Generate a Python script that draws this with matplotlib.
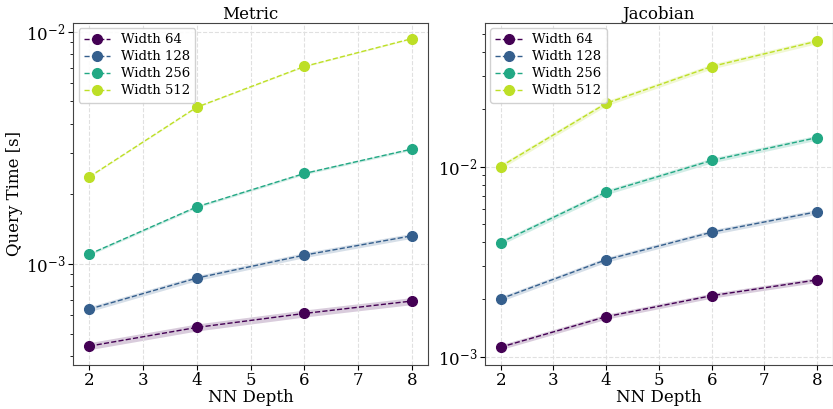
import numpy as np
import matplotlib
matplotlib.use("Agg")
import matplotlib.pyplot as plt

plt.rcParams['font.family'] = 'DejaVu Serif'
plt.rcParams['mathtext.fontset'] = 'dejavuserif'

depths = [2, 4, 6, 8]
widths = [64, 128, 256, 512]

# mean query time per width, metric evaluation
metric_64 = [4.42e-4, 5.32e-4, 6.11e-4, 6.91e-4]
metric_128 = [6.38e-4, 8.68e-4, 1.09e-3, 1.32e-3]
metric_256 = [1.10e-3, 1.76e-3, 2.45e-3, 3.12e-3]
metric_512 = [2.37e-3, 4.73e-3, 7.08e-3, 9.33e-3]

# mean query time per width, jacobian evaluation
jac_64 = [1.12e-3, 1.62e-3, 2.09e-3, 2.53e-3]
jac_128 = [2.01e-3, 3.23e-3, 4.51e-3, 5.78e-3]
jac_256 = [3.98e-3, 7.33e-3, 1.076e-2, 1.42e-2]
jac_512 = [1.00e-2, 2.15e-2, 3.36e-2, 4.57e-2]

# relative spread of the shaded band
metric_spread = [0.035, 0.025, 0.012, 0.006]
jac_spread = [0.03, 0.03, 0.03, 0.03]

panels = [
    ("Metric", [metric_64, metric_128, metric_256, metric_512], metric_spread, (3.67e-4, 1.09e-2)),
    ("Jacobian", [jac_64, jac_128, jac_256, jac_512], jac_spread, (9.04e-4, 5.7e-2)),
]

colors = plt.cm.viridis(np.linspace(0, 0.9, 4))

fig = plt.figure(figsize=(8.33, 4.09), dpi=100)
ax_pos = [[0.088, 0.108, 0.426, 0.836], [0.582, 0.108, 0.418, 0.836]]

for k, (title, series, spread, ylim) in enumerate(panels):
    ax = fig.add_axes(ax_pos[k])
    for i, w in enumerate(widths):
        y = np.array(series[i])
        lo = y * (1 - spread[i])
        hi = y * (1 + spread[i])
        ax.fill_between(depths, lo, hi, color=colors[i], alpha=0.2, linewidth=0)
        ax.plot(depths, y, '--', color=colors[i], marker='o', markersize=7,
                linewidth=1, label='Width %d' % w)
    ax.set_yscale('log')
    ax.set_ylim(*ylim)
    ax.set_xlim(1.7, 8.3)
    ax.set_xticks(range(2, 9))
    ax.set_title(title, fontsize=12, pad=3)
    ax.set_xlabel('NN Depth', fontsize=12, labelpad=0)
    if k == 0:
        ax.set_ylabel('Query Time [s]', fontsize=12, labelpad=2)
    ax.tick_params(labelsize=12, pad=2)
    ax.grid(True, which='major', linestyle='--', color='#e0e0e0', linewidth=0.8)
    for s in ax.spines.values():
        s.set_color('#444444')
    ax.legend(loc='upper left', fontsize=9.5, framealpha=0.9, edgecolor='#cccccc',
              labelspacing=0.3, borderaxespad=0.4)

fig.savefig('out.png', dpi=100)
